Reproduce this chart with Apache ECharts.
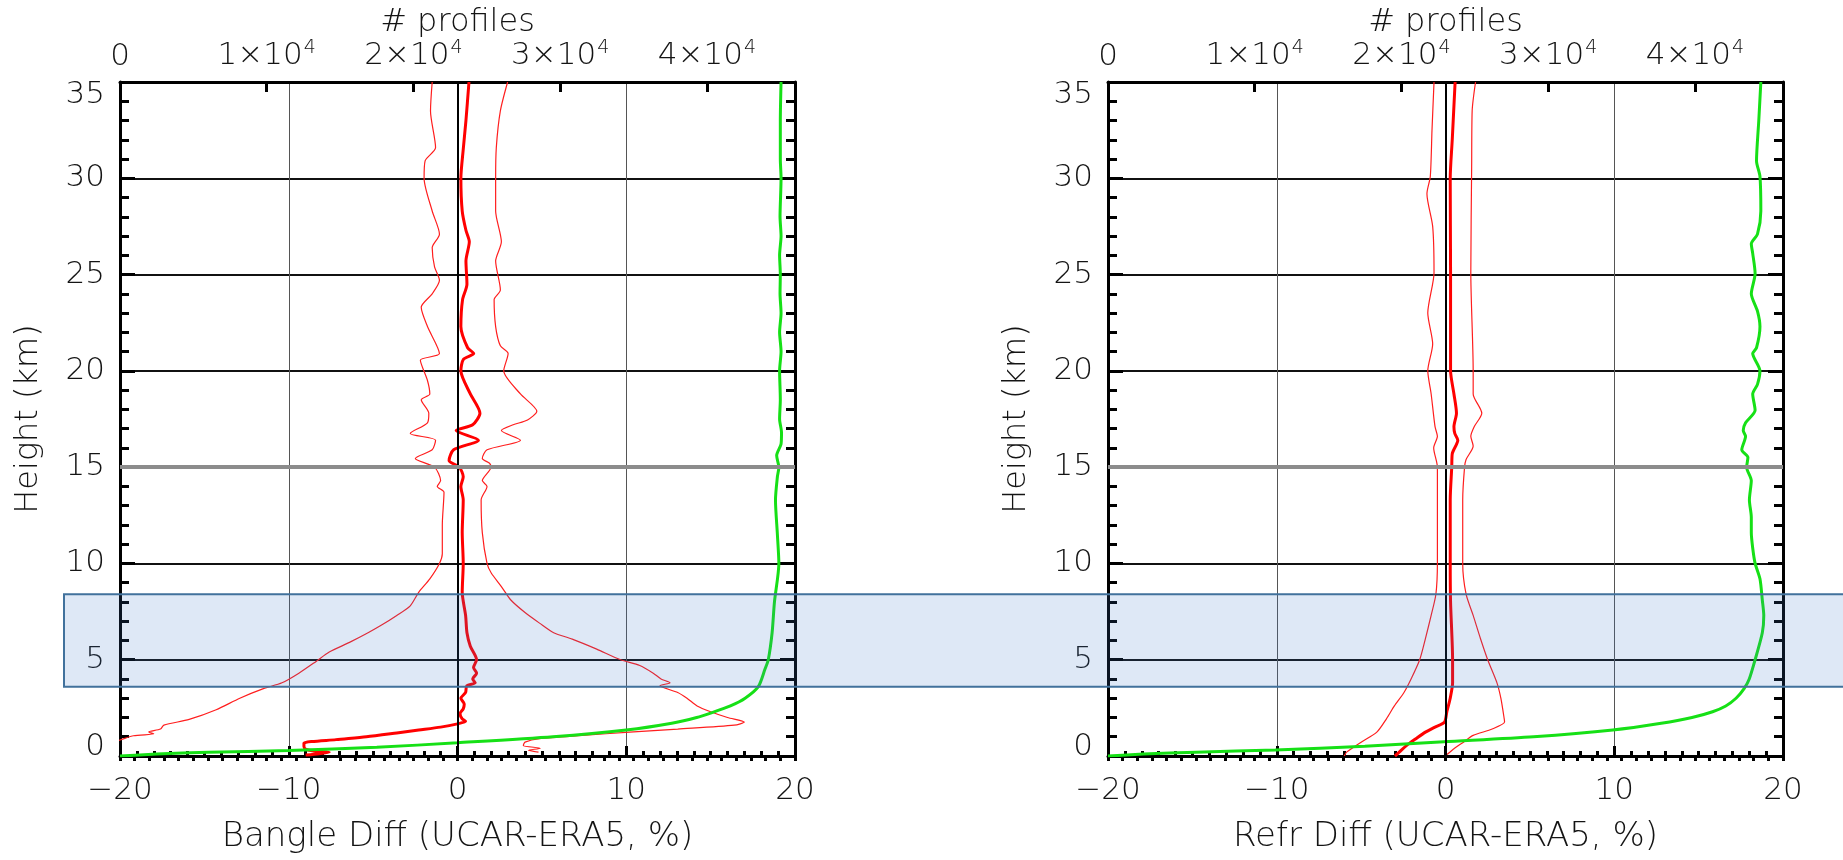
<!DOCTYPE html>
<html>
<head>
<meta charset="utf-8">
<script src="https://cdn.jsdelivr.net/npm/echarts/dist/echarts.min.js"></script>
<style>
  html, body { margin: 0; padding: 0; background: #ffffff; }
  #chart { width: 1843px; height: 860px; }
</style>
</head>
<body>
<div id="chart"></div>
<script>
// ---------- Bending angle differences (left panel), height in km ----------
const bangMeanH = [35, 33, 31.5, 30, 28.3, 27.3, 26.7, 25.7, 24.5, 23.7, 22.3, 21.2, 20.9, 20.6, 20, 18.8, 17.8, 17.2, 16.9, 16.4, 15.9, 15.35, 15, 14.5, 14, 13.3, 11.6, 10, 8.5, 7.3, 6.4, 5.7, 5, 4.6, 4.3, 4.0, 3.8, 3.65, 3.3, 3.0, 2.7, 2.45, 2.2, 1.93, 1.8, 1.67, 1.5, 1.35, 1.2, 1.0, 0.85, 0.67, 0.5, 0.35, 0.25, 0.2, 0.12, 0.05];
const bangMean  = [0.68, 0.5, 0.34, 0.2, 0.28, 0.5, 0.7, 0.5, 0.56, 0.3, 0.2, 0.6, 0.96, 0.35, 0.2, 0.76, 1.33, 0.9, -0.08, 1.24, -0.23, -0.5, 0.11, 0.34, 0.2, 0.34, 0.28, 0.34, 0.28, 0.48, 0.56, 0.76, 1.13, 0.95, 1.13, 0.9, 1.05, 0.55, 0.48, 0.2, 0.4, 0.34, 0.15, 0.28, 0.48, 0.0, -1.0, -2.3, -3.6, -5.4, -7.2, -9.1, -9.1, -9.0, -8.4, -7.6, -8.2, -9.0];

const bangLoH = [35, 33.5, 31.6, 30.9, 30, 28.3, 27.1, 26.4, 25.4, 24.7, 24.0, 23.3, 22.3, 20.9, 20.55, 19.5, 18.8, 18.5, 17.8, 17.3, 16.75, 16.4, 15.9, 15.45, 15, 14.3, 14, 13.7, 12, 10.5, 10, 9.2, 8.5, 7.8, 7.3, 6.8, 6.4, 5.9, 5.4, 4.9, 4.3, 3.8, 3.5, 3.0, 2.4, 1.9, 1.6, 1.4, 1.25, 1.15, 1.05, 0.83, 0.6];
const bangLo  = [-1.5, -1.6, -1.3, -1.92, -1.98, -1.5, -1.07, -1.5, -1.36, -1.07, -1.5, -2.15, -1.78, -1.07, -2.2, -1.78, -1.64, -2.15, -1.7, -1.78, -2.8, -1.3, -1.5, -2.5, -1.36, -1.0, -1.2, -0.8, -0.9, -0.9, -1.07, -1.64, -2.3, -2.8, -3.6, -4.5, -5.3, -6.4, -7.6, -8.4, -9.4, -10.4, -11.5, -12.9, -14.3, -15.9, -17.4, -17.6, -18.3, -18.0, -19.2, -20.0, -21.0];

const bangHiH = [35, 33.5, 31.6, 30, 28.3, 26.7, 25.7, 24.2, 23.7, 22.3, 21.3, 20.9, 20, 18.8, 17.9, 17.45, 17.2, 16.9, 16.4, 15.9, 15.45, 15.2, 15, 14.3, 14, 13.3, 11.6, 10, 9.5, 8.8, 8.1, 7.45, 6.9, 6.4, 6.07, 5.55, 5.0, 4.7, 4.3, 4.0, 3.8, 3.65, 3.3, 3.0, 2.6, 2.3, 2.0, 1.76, 1.6, 1.4, 1.24, 1.07, 0.9, 0.72, 0.55, 0.4, 0.3, 0.2];
const bangHi  = [2.97, 2.54, 2.3, 2.26, 2.26, 2.6, 2.26, 2.54, 2.17, 2.26, 2.54, 3.0, 2.74, 3.73, 4.7, 4.15, 3.3, 2.6, 3.73, 1.75, 1.47, 1.9, 1.98, 1.47, 1.75, 1.4, 1.47, 1.75, 2.0, 2.6, 3.16, 4.0, 4.86, 5.7, 6.8, 8.25, 9.66, 10.8, 11.6, 12.06, 12.6, 12.0, 13.05, 13.6, 14.2, 15.0, 16.0, 17.0, 16.4, 13.05, 10.2, 7.4, 4.86, 4.0, 3.9, 4.9, 4.2, 4.8];

const bangCountH = [0, 0.1, 0.2, 0.28, 0.45, 0.69, 1.0, 1.35, 1.7, 2.0, 2.23, 2.6, 3.0, 3.6, 4.5, 5, 6.4, 8, 10, 11.5, 13.3, 14.5, 15, 15.6, 16.2, 16.8, 17.5, 18.5, 20, 21, 22, 23, 24, 25, 26, 27, 28, 30, 31, 33, 35];
const bangCount  = [0, 2500, 6000, 11500, 17500, 23000, 29500, 34500, 37600, 39300, 40250, 41600, 42600, 43500, 43950, 44180, 44440, 44600, 44900, 44800, 44670, 44800, 44900, 44750, 45050, 45080, 44950, 45000, 44950, 45050, 44950, 45050, 44980, 45000, 44950, 45050, 44980, 45050, 45000, 45000, 45050];

// ---------- Refractivity differences (right panel) ----------
const refrMeanH = [35, 32, 30, 25, 20, 18.8, 17.8, 17.1, 16.75, 16.4, 15.7, 15, 13.3, 10, 8, 5, 3.8, 3.0, 2.3, 1.76, 1.5, 1.24, 0.9, 0.55, 0.2, 0.0];
const refrMean  = [0.57, 0.4, 0.28, 0.3, 0.3, 0.5, 0.65, 0.5, 0.55, 0.73, 0.4, 0.37, 0.28, 0.28, 0.3, 0.42, 0.42, 0.28, 0.08, -0.06, -0.62, -1.19, -1.75, -2.3, -2.74, -3.0];

const refrLoH = [35, 32.5, 30.1, 29.2, 27.5, 25.1, 23.0, 21.4, 20.0, 18.8, 17.1, 16.6, 16.0, 15, 13.3, 10, 8.4, 7.3, 6.1, 5, 4.0, 3.3, 2.6, 1.93, 1.24, 0.72, 0.2, 0];
const refrLo  = [-0.68, -0.8, -0.9, -1.1, -0.76, -0.68, -1.05, -0.76, -1.05, -0.85, -0.62, -0.48, -0.7, -0.48, -0.48, -0.48, -0.57, -0.85, -1.19, -1.53, -2.04, -2.46, -3.03, -3.5, -4.07, -5.0, -5.86, -6.0];

const refrHiH = [35, 33.5, 30.6, 25.1, 20, 18.8, 17.8, 17.1, 16.6, 16.1, 15.4, 15, 13.3, 10, 8.4, 7.3, 6.1, 5, 3.8, 3.0, 1.93, 1.76, 1.4, 1.07, 0.72, 0.38, 0.07, 0];
const refrHi  = [1.78, 1.58, 1.55, 1.5, 1.64, 1.64, 2.15, 1.7, 1.5, 1.64, 1.22, 1.13, 1.02, 1.02, 1.22, 1.64, 2.07, 2.5, 3.05, 3.28, 3.48, 3.5, 2.77, 1.64, 1.07, 0.5, 0.08, 0.0];

const refrCountH = [0, 0.1, 0.2, 0.31, 0.5, 0.74, 1.0, 1.35, 1.7, 2.0, 2.3, 2.6, 3.0, 3.5, 4.0, 5.0, 6.4, 7.3, 8.1, 9.2, 10, 10.8, 11.6, 12.4, 13.3, 14.3, 15.0, 15.5, 15.9, 16.6, 16.9, 17.3, 17.95, 18.8, 19.3, 20.0, 20.9, 21.2, 22.3, 23.1, 24.0, 25.05, 26.1, 26.6, 27.1, 28.3, 30.1, 30.9, 33, 35];
const refrCount  = [0, 2400, 6000, 11400, 17500, 22900, 29000, 34400, 37700, 39800, 41200, 42100, 42800, 43350, 43700, 44100, 44590, 44690, 44590, 44430, 44100, 43935, 43840, 43840, 43710, 43840, 43520, 43610, 43190, 43450, 43290, 43450, 44100, 43935, 44260, 44430, 43935, 44195, 44430, 44260, 43840, 44100, 43935, 43840, 44260, 44490, 44430, 44195, 44350, 44490];

// ---------- Axis settings ----------
const pctTicks = { min: -20, max: 20, step: 10 };
const heightTicks = { min: 0, max: 35, step: 5 };
const countTicks = { min: 0, max: 46000, step: 10000, minorStep: 1000 };
const bandKm = [3.6, 8.4];          // highlighted height range
const panelTitles = ['Bangle Diff (UCAR-ERA5, %)', 'Refr Diff (UCAR-ERA5, %)'];
const countTitle = '# profiles';
const heightTitle = 'Height (km)';

const FONT = 'DejaVu Sans';
const FW = 200;
const TXT = '#141414';
const TICK_FS = 31;
const grids = [
  { left: 120, top: 82, width: 675, height: 674 },
  { left: 1108, top: 82, width: 675, height: 674 }
];

function pairs(hs, vs) { return hs.map((h, i) => [vs[i], h]); }

function pctLabel(v) { return v < 0 ? '\u2212' + Math.abs(v) : String(v); }
function countLabel(v) {
  if (v === 0) return '{n|0}';
  return '{n|' + (v / 10000) + '\u00d710}{s|4}';
}
function heightLabel(v) {
  if (v === heightTicks.max) return '{hi|' + v + '}';
  if (v === heightTicks.min) return '{lo|' + v + '}';
  return '{m|' + v + '}';
}
function txt(size, extra) {
  return Object.assign({ fontFamily: FONT, fontWeight: FW, fontSize: size, color: TXT }, extra || {});
}

const frame = { show: true, onZero: false, lineStyle: { color: '#000', width: 3 } };
// ticks point into the plot area (negative length flips them inward)
function ticks(len) { return { show: true, inside: false, length: -len, lineStyle: { color: '#000', width: 3 } }; }
function minor(len, n) { return { show: true, splitNumber: n, length: -len, lineStyle: { color: '#000', width: 3 } }; }

const xAxes = [], yAxes = [];
grids.forEach((g, gi) => {
  // bottom percent axis
  xAxes.push({
    type: 'value', gridIndex: gi, position: 'bottom',
    min: pctTicks.min, max: pctTicks.max, interval: pctTicks.step,
    name: panelTitles[gi], nameLocation: 'middle', nameGap: 64, nameMoveOverlap: false,
    nameTextStyle: txt(34),
    axisLine: frame,
    axisTick: ticks(10),
    minorTick: minor(5, 10),
    axisLabel: txt(TICK_FS, { show: true, margin: 19, formatter: pctLabel }),
    splitLine: { show: true, lineStyle: { color: '#555', width: 1 } }
  });
  // top count axis (major ticks + labels)
  xAxes.push({
    type: 'value', gridIndex: gi, position: 'top',
    min: countTicks.min, max: countTicks.max, interval: countTicks.step,
    name: countTitle, nameLocation: 'middle', nameGap: 43, nameMoveOverlap: false,
    nameTextStyle: txt(32),
    axisLine: frame,
    axisTick: ticks(10),
    axisLabel: txt(TICK_FS, {
      show: true, margin: 10, showMaxLabel: false, formatter: countLabel,
      rich: {
        n: txt(TICK_FS),
        s: txt(19, { verticalAlign: 'top', padding: [0, 0, 14, 1] })
      }
    }),
    splitLine: { show: false }
  });
  // top count axis (minor ticks)
  xAxes.push({
    type: 'value', gridIndex: gi, position: 'top',
    min: countTicks.min, max: countTicks.max, interval: countTicks.minorStep,
    axisLine: { show: false },
    axisTick: ticks(5),
    axisLabel: { show: false },
    splitLine: { show: false }
  });
  // left height axis
  yAxes.push({
    type: 'value', gridIndex: gi, position: 'left',
    min: heightTicks.min, max: heightTicks.max, interval: heightTicks.step,
    name: heightTitle, nameLocation: 'middle', nameGap: 75, nameRotate: 90, nameMoveOverlap: false,
    nameTextStyle: txt(32),
    axisLine: frame,
    axisTick: ticks(15),
    minorTick: minor(9, 5),
    axisLabel: txt(TICK_FS, {
      show: true, margin: 15, formatter: heightLabel,
      rich: {
        m: txt(TICK_FS),
        hi: txt(TICK_FS, { padding: [26, 0, 0, 0] }),
        lo: txt(TICK_FS, { padding: [0, 0, 18, 0] })
      }
    }),
    splitLine: { show: true, lineStyle: { color: '#111', width: 2 } }
  });
  // right mirror height axis
  yAxes.push({
    type: 'value', gridIndex: gi, position: 'right',
    min: heightTicks.min, max: heightTicks.max, interval: heightTicks.step,
    axisLine: frame,
    axisTick: ticks(15),
    minorTick: minor(9, 5),
    axisLabel: { show: false },
    splitLine: { show: false }
  });
});

const THIN = { color: '#ff1e1e', width: 1.2 };
const THICK = { color: '#ff0000', width: 3 };
const GREEN = { color: '#16e016', width: 3 };

function curve(name, gi, countAxis, hs, vs, style, extra) {
  return Object.assign({
    name: name, type: 'line',
    xAxisIndex: gi * 3 + (countAxis ? 1 : 0), yAxisIndex: gi * 2,
    data: pairs(hs, vs), showSymbol: false, symbol: 'none',
    smooth: 0.25, clip: true, silent: true, animation: false,
    lineStyle: style, z: 3
  }, extra || {});
}

// reference lines: zero difference and the 15 km level
function refLines() {
  return {
    silent: true, symbol: 'none', animation: false,
    label: { show: false },
    data: [
      { xAxis: 0, lineStyle: { color: '#000', width: 2, type: 'solid' } },
      { yAxis: 15, lineStyle: { color: '#8c8c8c', width: 4, type: 'solid' } }
    ]
  };
}

const series = [
  curve('bangLo', 0, false, bangLoH, bangLo, THIN, { markLine: refLines() }),
  curve('bangHi', 0, false, bangHiH, bangHi, THIN),
  curve('bangMean', 0, false, bangMeanH, bangMean, THICK),
  curve('bangCount', 0, true, bangCountH, bangCount, GREEN),
  curve('refrLo', 1, false, refrLoH, refrLo, THIN, { markLine: refLines() }),
  curve('refrHi', 1, false, refrHiH, refrHi, THIN),
  curve('refrMean', 1, false, refrMeanH, refrMean, THICK),
  curve('refrCount', 1, true, refrCountH, refrCount, GREEN)
];

const chart = echarts.init(document.getElementById('chart'), null, { renderer: 'canvas' });
chart.setOption({
  backgroundColor: '#ffffff',
  animation: false,
  grid: grids.map(g => Object.assign({ containLabel: false, outerBoundsMode: 'none' }, g)),
  xAxis: xAxes,
  yAxis: yAxes,
  series: series
});

// translucent band marking the highlighted height range across both panels
const yHi = chart.convertToPixel({ xAxisIndex: 0, yAxisIndex: 0 }, [0, bandKm[1]])[1];
const yLo = chart.convertToPixel({ xAxisIndex: 0, yAxisIndex: 0 }, [0, bandKm[0]])[1];
chart.setOption({
  graphic: [{
    type: 'rect', silent: true, z: 100,
    shape: { x: 64, y: yHi, width: 1843 - 64 + 20, height: yLo - yHi },
    style: { fill: 'rgba(60,120,200,0.17)', stroke: '#41719c', lineWidth: 2 }
  }]
});
</script>
</body>
</html>
